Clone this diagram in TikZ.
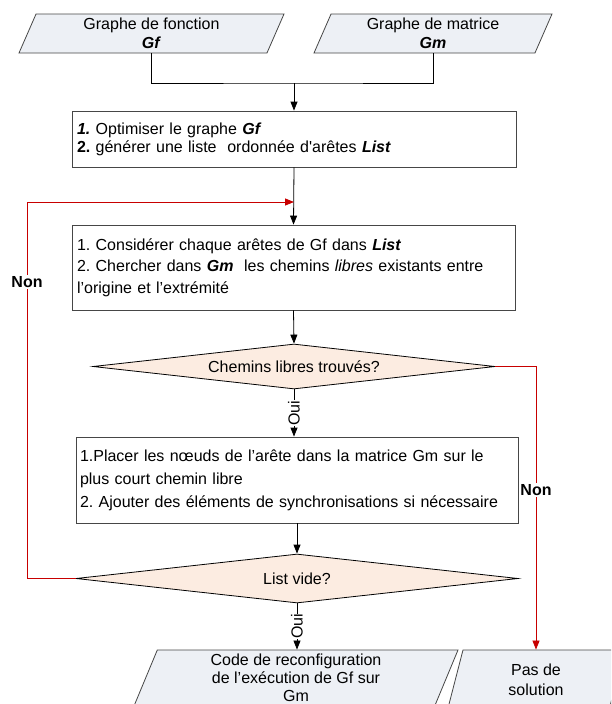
\documentclass[tikz,border=0pt]{standalone}
\usepackage{fontspec}
% family without TeX ligature mapping, so ' stays a straight quote
\newfontfamily\chartfont{Liberation Sans}
\usetikzlibrary{shapes.geometric,arrows.meta}
\definecolor{iofill}{RGB}{237,240,245}
\definecolor{decfill}{RGB}{252,236,225}
\definecolor{loopred}{RGB}{200,0,0}
\definecolor{edgegray}{RGB}{70,70,70}

\begin{document}
\frenchspacing
\begin{tikzpicture}[
  x=1pt, y=1pt,
  every node/.style={font=\chartfont\fontsize{16}{19}\selectfont},
  io/.style={trapezium, trapezium left angle=#1, trapezium right angle=180-#1,
    trapezium stretches body, draw=edgegray, fill=iofill, line width=0.8pt,
    inner sep=0pt, align=center},
  proc/.style={rectangle, draw=edgegray, line width=0.8pt, align=left,
    inner xsep=5pt, inner ysep=0pt},
  dec/.style={diamond, draw=black, fill=decfill, line width=0.8pt,
    inner sep=0pt, shape aspect=9},
  link/.style={draw=black, line width=0.8pt},
  arr/.style={link, -{Triangle[length=9pt,width=7pt]}},
  redarr/.style={draw=loopred, line width=0.8pt, -{Triangle[length=9pt,width=7pt]}},
  oui/.style={rotate=90, fill=white, inner sep=0.5pt},
  nonlab/.style={fill=white, inner sep=1pt,
    font=\chartfont\fontsize{16}{19}\selectfont\bfseries}
]
\useasboundingbox (0,0) rectangle (611,-704);
\clip (0,0) rectangle (611,-704);

% inputs
\node[io=61, minimum width=265, minimum height=39] (gf) at (151.5,-33.5)
  {Graphe de fonction\\\textbf{\textit{Gf}}};
\node[io=61, minimum width=238, minimum height=39] (gm) at (433,-33.5)
  {Graphe de matrice\\\textbf{\textit{Gm}}};

% processing steps
\node[proc, text width=434, minimum height=56,
  font=\chartfont\fontsize{16}{18}\selectfont] (b1) at (294,-139)
  {\textbf{\textit{1.}} Optimiser le graphe \textbf{\textit{Gf}}\\
   \textbf{2.} générer une liste\ \ ordonnée d'arêtes \textbf{\textit{List}}};
\node[proc, text width=433, minimum height=85,
  font=\chartfont\fontsize{16}{21.5}\selectfont] (b2) at (293.5,-267.5)
  {1. Considérer chaque arêtes de Gf dans \textbf{\textit{List}}\\
   2. Chercher dans \textbf{\textit{Gm}}\ \ les chemins \textit{libres} existants entre\\
   l’origine et l’extrémité};
\node[dec, minimum width=402, minimum height=45] (d1) at (294,-366.5)
  {Chemins libres trouvés?};
\node[proc, text width=434, inner xsep=4pt, minimum height=86,
  font=\chartfont\fontsize{16}{23}\selectfont] (b3) at (297,-480)
  {1.Placer les nœuds de l’arête dans la matrice Gm sur le\\
   plus court chemin libre\\
   2. Ajouter des éléments de synchronisations si nécessaire};
\node[dec, minimum width=442, minimum height=49] (d2) at (297,-578.5)
  {List vide?};

% outputs
\node[io=64, minimum width=324, minimum height=56,
  font=\chartfont\fontsize{16}{18}\selectfont] (code) at (296,-678)
  {Code de reconfiguration\\de l’exécution de Gf sur\\Gm};
\node[io=64, minimum width=177, minimum height=60,
  font=\chartfont\fontsize{16}{20}\selectfont] (pas) at (536,-680)
  {Pas de\\solution};

% main flow
\coordinate (join) at (294,-83);
\draw[link] (gf.center |- gf.south) |- (join) -| (gm.center |- gm.south);
\draw[arr] (join) -- (b1.north);
\draw[arr] (b1.south) -- (b2.north);
\draw[arr] (b2.south) -- (d1.north);
\draw[arr] (d1.south) -- (d1.south |- b3.north)
  node[oui, midway] (oui1) {Oui};
\draw[arr] (b3.south) -- (d2.north);
\draw[arr] (d2.south) -- (d2.south |- code.north)
  node[oui, midway] (oui2) {Oui};

% loop back and failure branch
\coordinate (loopcorner) at (27,-202);
\coordinate (loopin) at (294,-202);
\draw[redarr] (d2.west) -| (loopcorner) -- (loopin);
\node[nonlab] (non1) at (27,-282) {Non};
\draw[redarr] (d1.east) -| (pas.north);
\node[nonlab] (non2) at (536,-490) {Non};
\end{tikzpicture}
\end{document}
